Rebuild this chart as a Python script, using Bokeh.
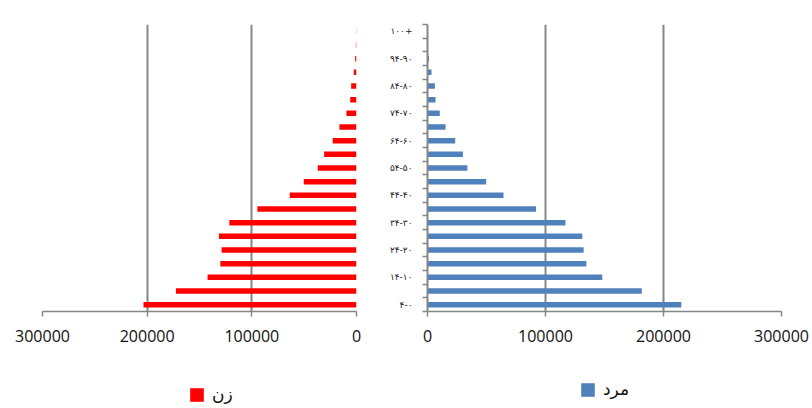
from bokeh.plotting import figure
from bokeh.layouts import row, column
from bokeh.models import (Range1d, FixedTicker, NumeralTickFormatter, Legend,
                          LegendItem, ColumnDataSource)
from bokeh.embed import file_html
from bokeh.resources import INLINE

# ---- data ----
# age-group labels as they appear on the axis (right-to-left reading order)
age_groups = ["۴-۰", "۹-۵", "۱۴-۱۰", "۱۹-۱۵", "۲۴-۲۰", "۲۹-۲۵", "۳۴-۳۰",
              "۳۹-۳۵", "۴۴-۴۰", "۴۹-۴۵", "۵۴-۵۰", "۵۹-۵۵", "۶۴-۶۰", "۶۹-۶۵",
              "۷۴-۷۰", "۷۹-۷۵", "۸۴-۸۰", "۸۹-۸۵", "۹۴-۹۰", "۹۹-۹۵", "۱۰۰+"]
women = [203500, 172500, 142300, 130100, 128900, 131400, 121500, 94700,
         63800, 50400, 37000, 30900, 22700, 16300, 9600, 6000, 5100, 2600,
         1300, 600, 300]
men = [215100, 181600, 148100, 134600, 132300, 131200, 116900, 92000,
       64400, 49700, 33800, 30000, 23500, 15300, 10400, 6800, 6300, 3400,
       1300, 300, 100]
value_ticks = [0, 100000, 200000, 300000]
women_label = "زن"
men_label = "مرد"

GRAY = "#868686"
RED = "#FF0000"
BLUE = "#4F81BD"
TICK_FONT = "Open Sans"
FA_FONT = "DejaVu Sans"

H1 = 360      # chart row height
H2 = 48       # legend row height
W1 = 382      # left (women) width
W2 = 430      # right (men) width
n = len(age_groups)
pos = list(range(n))
src = ColumnDataSource(dict(y=pos, women=women, men=men))


def style(p):
    p.outline_line_color = None
    p.background_fill_color = "white"
    p.border_fill_color = "white"
    p.ygrid.visible = False
    p.xgrid.ticker = FixedTicker(ticks=value_ticks)
    p.xgrid.grid_line_color = GRAY
    p.xgrid.grid_line_width = 2
    ax = p.xaxis[0]
    ax.ticker = FixedTicker(ticks=value_ticks)
    ax.formatter = NumeralTickFormatter(format="0")
    ax.axis_line_color = GRAY
    ax.axis_line_width = 1.5
    ax.major_tick_line_color = GRAY
    ax.major_tick_line_width = 1.5
    ax.major_tick_out = 5
    ax.major_tick_in = 0
    ax.minor_tick_line_color = None
    ax.major_label_text_font = TICK_FONT
    ax.major_label_text_font_size = "16px"
    ax.major_label_text_color = "#111111"
    ax.major_label_standoff = 13


def legend_fig(label, field, color, width, bl, br, loc):
    # the series is drawn outside this strip's visible range; only its
    # legend entry shows
    f = figure(width=width, height=H2, output_backend="svg",
               toolbar_location=None, x_range=Range1d(0, 1),
               y_range=Range1d(n + 5, n + 6), x_axis_location=None,
               y_axis_location=None, min_border_left=bl,
               min_border_right=br, min_border_top=0, min_border_bottom=0)
    f.outline_line_color = None
    f.grid.visible = False
    r = f.hbar(y="y", left=0, right=field, height=0.4, source=src,
               fill_color=color, line_color=None)
    leg = Legend(items=[LegendItem(label=label, renderers=[r])], location=loc)
    leg.padding = 0
    leg.margin = 0
    leg.border_line_color = None
    leg.background_fill_alpha = 0
    leg.glyph_width = 17
    leg.glyph_height = 17
    leg.label_height = 17
    leg.label_standoff = 7
    leg.label_text_font = FA_FONT
    leg.label_text_font_size = "17px"
    leg.label_text_color = "#111111"
    f.add_layout(leg)
    return f


# ---- left panel: women ----
p1 = figure(width=W1, height=H1, output_backend="svg", toolbar_location=None,
            x_range=Range1d(300000, 0), y_range=Range1d(-0.5, n - 0.5),
            y_axis_location=None,
            min_border_left=42, min_border_right=26, min_border_top=15,
            min_border_bottom=H1 - 312)
style(p1)
p1.hbar(y="y", left=0, right="women", height=0.4, source=src,
        fill_color=RED, line_color=None)

# ---- right panel: men ----
p2 = figure(width=W2, height=H1, output_backend="svg", toolbar_location=None,
            x_range=Range1d(0, 300000), y_range=Range1d(-0.5, n - 0.5),
            min_border_left=45, min_border_right=31, min_border_top=24,
            min_border_bottom=H1 - 311)
style(p2)
yax = p2.yaxis[0]
yax.ticker = FixedTicker(ticks=pos[::2],
                         minor_ticks=[i - 0.5 for i in range(n + 1)])
yax.major_label_overrides = {i: age_groups[i] for i in pos[::2]}
yax.axis_line_color = GRAY
yax.axis_line_width = 2
yax.major_tick_line_color = None
yax.minor_tick_line_color = GRAY
yax.minor_tick_line_width = 1.5
yax.minor_tick_out = 5
yax.minor_tick_in = 0
yax.major_label_text_font = FA_FONT
yax.major_label_text_font_size = "9px"
yax.major_label_text_color = "#222222"
yax.major_label_standoff = 9
p2.hbar(y="y", left=0, right="men", height=0.4, source=src,
        fill_color=BLUE, line_color=None)

# ---- legends ----
l1 = legend_fig(women_label, "women", RED, W1, 42, 26, (146, 4))
l2 = legend_fig(men_label, "men", BLUE, W2, 45, 31, (152, 9))

layout = column(row(p1, p2), row(l1, l2))
open("out.html", "w").write(file_html(layout, INLINE))
